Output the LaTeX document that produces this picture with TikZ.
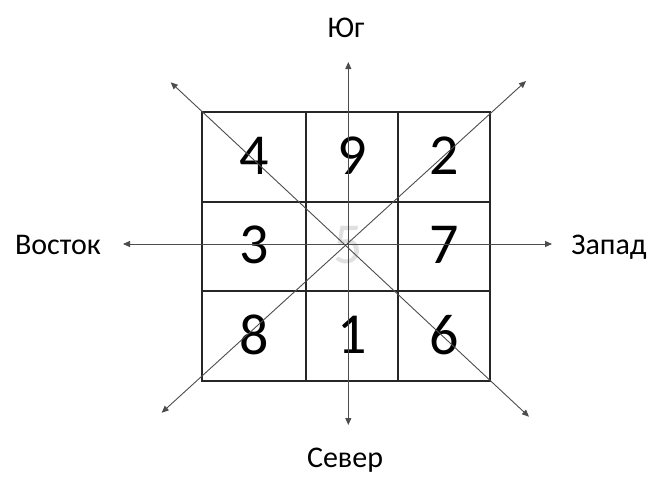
\documentclass[tikz,border=0pt]{standalone}
\usepackage{fontspec}
\setmainfont{Carlito}
\usetikzlibrary{arrows.meta}
\begin{document}
\begin{tikzpicture}[x=1pt,y=-1pt,
  gridline/.style={line width=1.4pt,draw=black!85},
  axis/.style={line width=0.9pt,draw=black!70,{Triangle[length=7pt,width=6pt]}-{Triangle[length=7pt,width=6pt]}},
  digit/.style={font=\fontsize{58}{58}\selectfont,inner sep=0pt},
  label/.style={font=\fontsize{30}{30}\selectfont,inner sep=0pt,anchor=base}]
\useasboundingbox (0,0) rectangle (654,477);
% grid
\draw[gridline] (202,112) rectangle (490,381);
\draw[gridline] (306,112) -- (306,381);
\draw[gridline] (398,112) -- (398,381);
\draw[gridline] (202,202) -- (490,202);
\draw[gridline] (202,291) -- (490,291);
% numbers
\node[digit] (n4) at (254,156) {4};
\node[digit] (n9) at (352,156) {9};
\node[digit] (n2) at (444,156) {2};
\node[digit] (n3) at (254,245) {3};
\node[digit,text=black!12] (n5) at (348,245) {5};
\node[digit] (n7) at (444,245) {7};
\node[digit] (n8) at (254,335) {8};
\node[digit] (n1) at (352,335) {1};
\node[digit] (n6) at (444,335) {6};
% arrow end points
\coordinate (S) at (348.3,62);
\coordinate (N) at (348.3,425);
\coordinate (E) at (123,244);
\coordinate (W) at (552,244);
\coordinate (TL) at (170.7,82.3);
\coordinate (BR) at (529,416.7);
\coordinate (BL) at (161.7,412.7);
\coordinate (TR) at (526,81);
\draw[axis] (N) -- (S);
\draw[axis] (E) -- (W);
\draw[axis] (TL) -- (BR);
\draw[axis] (BL) -- (TR);
% labels
\node[label] (yug) at (346,37) {Юг};
\node[label] (sever) at (345,467) {Север};
\node[label] (vostok) at (58,254) {Восток};
\node[label] (zapad) at (609,254) {Запад};
\end{tikzpicture}
\end{document}
